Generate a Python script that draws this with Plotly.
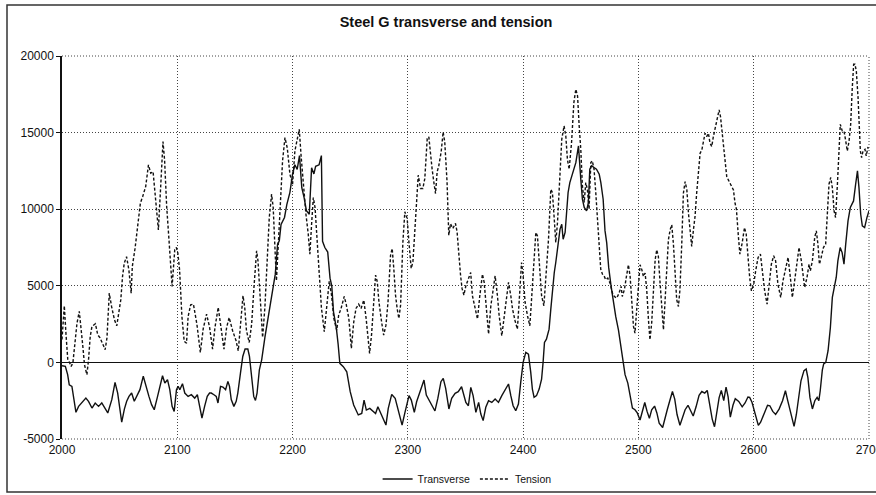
import plotly.graph_objects as go

title = "Steel G transverse and tension"

x_ticks = [2000, 2100, 2200, 2300, 2400, 2500, 2600, 2700]
x_labels = ["2000", "2100", "2200", "2300", "2400", "2500", "2600", "2700"]
y_ticks = [-5000, 0, 5000, 10000, 15000, 20000]
y_labels = ["-5000", "0", "5000", "10000", "15000", "20000"]

trans_x = [2000, 2002.9, 2004.9, 2006.3, 2008.6, 2010, 2012.1, 2014.4, 2017.3, 2020.7, 2023, 2026, 2028.8,
           2031.7, 2034.5, 2036.8, 2039.7, 2043.2, 2046, 2048.3, 2050.4, 2051.8, 2054.1, 2056.1, 2058.1,
           2060.4, 2062.7, 2064.7, 2067.6, 2070.5, 2072.8, 2075.4, 2077.7, 2080, 2082.9, 2084.9, 2087.2,
           2089.2, 2091.5, 2093.5, 2095.5, 2097.3, 2099.3, 2100.7, 2102.2, 2104.5, 2106.5, 2109.4, 2112.2,
           2115.1, 2117.4, 2119.4, 2121.4, 2123.7, 2126, 2128, 2129.5, 2131.8, 2133.8, 2135.3, 2137.5,
           2139.6, 2141.9, 2143.9, 2145.3, 2146.8, 2149.1, 2151.1, 2152.5, 2154.8, 2156.8, 2158.8, 2161.2,
           2162.6, 2164.6, 2166.3, 2167.8, 2169.2, 2171.2, 2173.2, 2176, 2179, 2182, 2185, 2187, 2188.5,
           2190, 2193, 2195, 2197.7, 2200, 2202, 2204, 2206, 2208, 2210, 2212, 2214.5, 2216.5, 2218.5,
           2220, 2223, 2225, 2226, 2228, 2230.5, 2232.5, 2234, 2235.5, 2238, 2239.5, 2241, 2244, 2247,
           2250, 2253, 2257, 2260, 2262, 2264, 2267, 2272, 2274, 2277, 2281, 2283, 2286, 2289, 2292,
           2295, 2297.5, 2301, 2303, 2305.6, 2307.6, 2310.5, 2314, 2316, 2319, 2323.5, 2326, 2328.7,
           2330.7, 2332.8, 2335.6, 2338, 2341, 2343.7, 2346.6, 2349, 2350.3, 2352.5, 2354.6, 2356.6,
           2359, 2361.4, 2363.3, 2365.3, 2367.6, 2370, 2372.8, 2375.7, 2378.6, 2381.5, 2384.4, 2387.3,
           2389.3, 2391.3, 2393.6, 2395.9, 2397.9, 2400, 2402.3, 2404.6, 2406.6, 2408, 2409.5, 2411.6,
           2413.9, 2416, 2417.3, 2418.5, 2420.2, 2422.5, 2424, 2425.4, 2427, 2428.3, 2430.6, 2432,
           2433.5, 2434.7, 2436.4, 2437.6, 2439, 2440.5, 2442.2, 2444.2, 2445.7, 2448, 2449, 2450,
           2451.4, 2453, 2455, 2456.6, 2457.8, 2459.5, 2461.5, 2463.6, 2466, 2467.4, 2469.4, 2471,
           2472.5, 2474.2, 2476.3, 2478.3, 2480.3, 2482.7, 2485, 2487, 2488.4, 2490.8, 2492.8, 2494.8,
           2497, 2499, 2501.4, 2503.5, 2505.5, 2507.5, 2509.5, 2511.5, 2514, 2516, 2518, 2521, 2523,
           2525, 2527, 2529.5, 2531.5, 2533.5, 2536, 2538.5, 2540.5, 2543, 2545, 2547.5, 2550, 2552.6,
           2555, 2557.5, 2559.7, 2562, 2564, 2566, 2568, 2570, 2571.9, 2574, 2576, 2577.8, 2579.7, 2582,
           2584, 2587, 2590, 2592.5, 2595, 2596.5, 2598.5, 2600.5, 2602.5, 2604, 2606, 2609, 2612, 2614,
           2616.5, 2619, 2622, 2625, 2627.5, 2629.5, 2632.5, 2635, 2637, 2639, 2641, 2643.6, 2645.5,
           2647, 2648.8, 2650.9, 2653, 2655, 2656.5, 2657.7, 2659.5, 2660.7, 2662.5, 2664.5, 2666.5,
           2668.2, 2670.2, 2671.6, 2673, 2675, 2676.7, 2678.3, 2679.8, 2681.8, 2683.8, 2685.5, 2686.6,
           2688.4, 2690, 2691.3, 2692.8, 2694.2, 2696.2, 2698.2, 2700]
trans_y = [-220, -260, -800, -1460, -1570, -2220, -3260, -2870, -2650, -2330, -2540, -2980, -2650,
           -2870, -2650, -2980, -3300, -2430, -1300, -2000, -3300, -3900, -3050, -2540, -2220,
           -2000, -2540, -2220, -1780, -900, -1560, -2220, -2760, -3090, -2220, -1560, -870,
           -1350, -1130, -1780, -2870, -3200, -1780, -1560, -1780, -1390, -2000, -2220, -2110,
           -2330, -2110, -2870, -3630, -2870, -2220, -2000, -2000, -2110, -2220, -2650, -1560,
           -1610, -1780, -1240, -1560, -2430, -2870, -2540, -2000, -700, 390, 870, 870,
           390, -1130, -2220, -2480, -2000, -480, 170, 1630, 2930, 4240, 5760, 7720, 7940,
           9000, 9460, 10300, 11100, 12300, 12900, 12600, 13500, 11400, 10760, 9900, 9670, 12700, 12300,
           12800, 12900, 13500, 7900, 7500, 7200, 5500, 5000, 3300, 2220, 1200, -60, -280, -610,
           -1910, -2780, -3430, -3330, -2460, -3110, -3000, -3330, -2900, -3430, -4090, -3000, -2090, -2350, -3170,
           -4090, -3260, -2170, -2460, -3260, -2570, -1910, -1150, -2130, -2570, -3170, -2350, -1260,
           -1040, -1690, -3040, -2350, -2020, -1910, -1590, -2350, -2610, -2830, -1630, -2170,
           -3260, -2610, -3370, -3800, -2930, -2500, -2610, -2390, -2610, -2170, -1740, -1410,
           -2170, -2830, -3150, -2720, -1300, 0, 650, 540, -650, -1740, -2280, -2170,
           -1740, -1090, 0, 1300, 1520, 2170, 3480, 4780, 5870, 6520, 7830, 8700,
           9020, 8040, 8480, 9780, 11090, 11740, 12170, 12610, 13040, 14130, 12830, 11960,
           10650, 10110, 9890, 10430, 12610, 12830, 12720, 12610, 12280, 11740, 10650, 8600,
           7800, 6200, 4960, 3870, 3000, 2100, 900, 0, -800, -1350, -2220, -2980,
           -3090, -3300, -3760, -3200, -2620, -3200, -3650, -3100, -2850, -3300, -3960, -4250, -3600,
           -3090, -2550, -1900, -2400, -3400, -4100, -3500, -3090, -2800, -3150, -3500, -2900, -2150,
           -1900, -2000, -1830, -2700, -3700, -4200, -3300, -2300, -1830, -2500, -1610, -2250, -3570, -2800,
           -2370, -2550, -2900, -2650, -2260, -2280, -2600, -3200, -3700, -4110, -3900, -3350, -2800, -2830,
           -3200, -3400, -3050, -2500, -1850, -2500, -3400, -4180, -3400, -2300, -1200, -540, -430,
           -1000, -2300, -3040, -2500, -2280, -2500, -1850, -500, -100, 0, 760, 2280,
           4240, 4890, 5560, 6630, 7500, 7170, 6410, 7720, 9240, 10110, 10330, 10540,
           11630, 12500, 11410, 9670, 8910, 8800, 9450, 9890]

tens_x = [2000, 2001, 2002, 2003.5, 2005, 2006.5, 2008, 2009.5, 2011, 2013, 2015, 2016.6, 2018, 2019.5,
          2021.6, 2023, 2024.5, 2026, 2029, 2031, 2033, 2035, 2037.4, 2039, 2041, 2043, 2045.5, 2047.5,
          2049, 2051, 2052.5, 2054, 2056, 2058, 2060, 2061, 2063.4, 2066, 2068, 2070, 2072.6, 2075, 2077,
          2079, 2081, 2083.6, 2085.6, 2087.6, 2089, 2090.8, 2092.8, 2094, 2095.5, 2097.8, 2099.2, 2100.5,
          2102, 2104, 2106, 2108, 2109.4, 2111.6, 2114, 2117, 2120, 2122.5, 2125.4, 2128, 2130.6, 2132.7,
          2135.5, 2137.5, 2140.5, 2142.8, 2145, 2148, 2151, 2152.9, 2155, 2157, 2158.5, 2160, 2162.4,
          2164.5, 2166.5, 2168.8, 2170, 2172, 2174, 2176, 2178, 2179.8, 2181.8, 2183.2, 2184.7, 2186,
          2187.5, 2189.6, 2191.3, 2193.4, 2195.4, 2197.7, 2200, 2202, 2204, 2205.8, 2207.5, 2209, 2211.6,
          2213.6, 2215, 2216.5, 2218, 2219.5, 2221.4, 2223, 2225, 2227.5, 2229.5, 2231.8, 2233.8, 2235.8,
          2238.3, 2240, 2242, 2244.8, 2246.5, 2248.8, 2251, 2253, 2255, 2257.3, 2259.4, 2261.8, 2263.8,
          2265.6, 2266.8, 2268.5, 2270.5, 2272, 2273.5, 2274.9, 2277.2, 2279, 2281, 2282.8, 2285, 2286.4,
          2287.8, 2289.3, 2290.7, 2292.2, 2293.7, 2295.7, 2297.4, 2299.4, 2300.9, 2302.9, 2304.4, 2306,
          2307.5, 2309, 2311, 2313, 2314.7, 2316.8, 2318.2, 2319.6, 2321, 2322.5, 2324, 2325.4, 2326.9,
          2328.9, 2330.6, 2332, 2334, 2335.5, 2337, 2339, 2341.3, 2342.7, 2344, 2345.7, 2347, 2348.6,
          2350.3, 2353, 2354.5, 2356, 2358.4, 2360.4, 2362.4, 2364.7, 2366.2, 2368.2, 2370, 2372, 2374,
          2375.7, 2377.7, 2379.2, 2381.5, 2383.5, 2385.5, 2387.3, 2389.3, 2390.8, 2393, 2395, 2396.5,
          2398.6, 2400, 2401.7, 2403.8, 2405.8, 2407.5, 2409.5, 2411, 2412.4, 2414.5, 2416, 2418, 2419.4,
          2422, 2424, 2425.4, 2427, 2428.3, 2429.8, 2431.8, 2433.5, 2435.5, 2437, 2438.4, 2439.9, 2442,
          2444, 2445.7, 2447.2, 2448.6, 2450, 2451.4, 2453, 2454.3, 2455.7, 2457.2, 2458.7, 2460, 2461.5,
          2463, 2464.5, 2466, 2467.3, 2468.8, 2470.2, 2471.6, 2473.4, 2475.4, 2477.5, 2479.2, 2481.2,
          2483.2, 2485, 2486, 2487.9, 2489.6, 2491.3, 2492.8, 2494.2, 2495.7, 2497, 2498.6, 2500, 2501.4,
          2503, 2504.3, 2505.8, 2507.2, 2508.7, 2510, 2511.5, 2513, 2514.5, 2515.9, 2517.3, 2518.8,
          2520.2, 2521.7, 2523, 2524.6, 2526, 2527.5, 2528.9, 2530.3, 2531.8, 2533.2, 2534.7, 2536,
          2537.6, 2539, 2540.5, 2542, 2543.4, 2544.8, 2546.2, 2547.7, 2549.1, 2550.5, 2552, 2553.5, 2555,
          2556.4, 2557.8, 2559.2, 2560.7, 2562.1, 2563.6, 2565, 2566.5, 2568, 2570, 2571.2, 2572.3,
          2573.7, 2575.1, 2576.6, 2578, 2579.5, 2581, 2582.4, 2583.8, 2585, 2586.7, 2588, 2590, 2592,
          2593.5, 2595, 2596.5, 2598, 2600, 2601.7, 2603.8, 2605.8, 2607.5, 2609.5, 2611.6, 2613.3,
          2615.3, 2617.3, 2619, 2621, 2623.4, 2625.4, 2627.7, 2629.8, 2631.8, 2633.5, 2635.5, 2637.5,
          2639.3, 2641.3, 2642.7, 2644.2, 2646.2, 2648, 2649.1, 2650.9, 2652.9, 2654.3, 2655.7, 2657,
          2658.5, 2660.5, 2662.4, 2663.8, 2665.3, 2666.8, 2668.2, 2669.7, 2671, 2672.6, 2674, 2675.1,
          2676.8, 2678.3, 2679.8, 2681.2, 2682.7, 2684.1, 2685.5, 2686.7, 2687.8, 2689, 2690.5, 2691.3,
          2692.5, 2693.6, 2694.8, 2696.5, 2697.6, 2699, 2700]
tens_y = [1500, 2800, 3700, 1800, 200, 0, -260, 0, 1100, 2560, 3330, 2300, 1100, -150,
          -800, 170, 1700, 2350, 2520, 1800, 1600, 1260, 830, 1600, 4520, 3650, 2780, 2390,
          3200, 4090, 5600, 6480, 6900, 6040, 4520, 6260, 7460, 9300, 10400, 10830, 11480, 12890, 12350,
          12450, 10830, 8650, 11480, 14410, 13200, 10170, 8000, 6300, 4960, 7350, 7500, 7130,
          6040, 3000, 1370, 1260, 3000, 3760, 3800, 2500, 650, 2200, 3150, 2300, 870, 2280,
          3590, 2500, 870, 2280, 2930, 2070, 1410, 760, 2500, 4350, 3590, 2070, 1300,
          2500, 4890, 7280, 6630, 4020, 1630, 3590, 6850, 9460, 10980, 10110, 7500, 5330,
          7500, 10540, 13150, 14670, 14000, 12280, 11630, 13800, 14670, 15220, 13370, 11850, 9670,
          8370, 7070, 9020, 10760, 10110, 7940, 5760, 3590, 2000, 3500, 5300, 4390, 2870,
          2100, 3090, 3500, 4300, 3800, 2870, 910, 2600, 3520, 3800, 3520, 4070, 2870,
          1350, 590, 1800, 4390, 5700, 5260, 3960, 2650, 1780, 2430, 3960, 7000, 7430,
          6130, 4390, 3520, 2870, 3740, 7870, 9830, 9390, 7870, 6130, 6570, 8740,
          10910, 12220, 11350, 11350, 12000, 14610, 14720, 13520, 12650, 11780, 11020, 12430, 12870,
          13740, 15040, 14390, 11780, 8300, 9050, 8740, 9070, 8520, 7000, 5700, 4830, 4390,
          5000, 5650, 5870, 4350, 3480, 2830, 4350, 5760, 5220, 3480, 1850, 3700, 4780,
          5650, 4350, 3040, 1740, 3040, 4350, 5220, 4350, 3480, 2720, 2170, 3910,
          6520, 5650, 3910, 3040, 2390, 4350, 6960, 8480, 8260, 6090, 4350, 3700, 5220,
          8040, 11300, 11090, 9350, 7830, 9130, 12600, 14560, 15440, 14780, 13260, 12610, 14350,
          16960, 17830, 17390, 15440, 13910, 11520, 10440, 11740, 11300, 10000, 13040, 13150, 12610,
          11090, 9350, 7390, 6090, 5760, 5650, 5400, 5500, 5170, 4520, 4300, 4200,
          4520, 4960, 4300, 4780, 5610, 6370, 5610, 3870, 2350, 1910, 3440, 5170, 6370,
          6040, 5610, 5830, 4740, 2780, 1480, 2570, 4740, 6700, 7350, 6910, 5170,
          3440, 2130, 3870, 6040, 8000, 8650, 8980, 7780, 5610, 4090, 3650, 4740,
          7780, 11040, 11800, 11260, 9740, 8650, 7570, 8650, 9520, 11040, 12570, 13650, 13870,
          14520, 14960, 14740, 14960, 14310, 14090, 14740, 15280, 15610, 16480, 16040, 15170,
          14310, 13220, 12130, 11910, 11690, 11480, 11260, 10390, 10000, 8220, 7070, 7800, 8800,
          8370, 6850, 5540, 4670, 5100, 5980, 6850, 7070, 5980, 4670, 3800, 4890,
          6410, 6960, 6630, 5110, 4240, 5330, 6200, 6850, 5540, 4240, 5330, 6410,
          7500, 6630, 5760, 4890, 5540, 6410, 5980, 6630, 8150, 8590, 7720, 6410,
          6850, 7500, 7720, 9460, 11630, 12070, 11410, 9890, 9460, 11630, 14240, 15540,
          15110, 15110, 14460, 13800, 14460, 15540, 17940, 19460, 19460, 19020, 17280, 15540,
          13800, 13370, 13800, 13910, 13480, 14020, 14000]

fig = go.Figure()
fig.add_trace(go.Scatter(x=trans_x, y=trans_y, mode="lines", name="Transverse",
                         line=dict(color="#111111", width=1.4)))
fig.add_trace(go.Scatter(x=tens_x, y=tens_y, mode="lines", name="Tension",
                         line=dict(color="#111111", width=1.4, dash="3px,2px")))

FONT = "Liberation Sans, Arial, sans-serif"
GRID = "#444444"
fig.update_layout(
    width=876, height=495,
    margin=dict(l=62, r=7, t=56, b=56, autoexpand=False),
    paper_bgcolor="white", plot_bgcolor="white",
    font=dict(family=FONT, size=12, color="#111111"),
    title=dict(text="<b>" + title + "</b>", x=446 / 876, xref="container", xanchor="center",
               y=1 - 22 / 495, yref="container", yanchor="middle",
               font=dict(family=FONT, size=14.5, color="#111111")),
    showlegend=True,
    legend=dict(orientation="h", x=0.502, xanchor="center",
                y=1 - 479 / 495, yref="container", yanchor="middle",
                font=dict(family=FONT, size=10.5, color="#111111"), bgcolor="rgba(0,0,0,0)",
                itemwidth=30, tracegroupgap=0),
    xaxis=dict(range=[2000, 2700], tickvals=x_ticks, ticktext=x_labels,
               showgrid=True, gridcolor=GRID, griddash="1px,2px", gridwidth=1,
               zeroline=False, showline=False, ticks="", ticklabelstandoff=2,
               ticklabeloverflow="allow", automargin=False),
    yaxis=dict(range=[-5000, 20000], tickvals=y_ticks, ticktext=y_labels,
               showgrid=True, gridcolor=GRID, griddash="1px,2px", gridwidth=1,
               zeroline=True, zerolinecolor="#111111", zerolinewidth=1.2,
               showline=True, linecolor="#111111", linewidth=1.5,
               ticks="outside", ticklen=4, tickcolor="#111111", automargin=False),
)

# dotted border of the plot area (top, right, bottom), as in the reference
edge = dict(color=GRID, width=1, dash="1px,2px")
fig.add_shape(type="line", xref="paper", yref="paper", x0=0, x1=1, y0=1, y1=1, line=edge)
fig.add_shape(type="line", xref="paper", yref="paper", x0=0, x1=1, y0=0, y1=0, line=edge)
fig.add_shape(type="line", xref="paper", yref="paper", x0=1, x1=1, y0=0, y1=1, line=edge)

# outer chart frame (right side runs off the picture)
fig.add_shape(type="rect", xref="paper", yref="paper",
              x0=(7 - 62) / 807, x1=(900 - 62) / 807,
              y0=(439 - 492) / 383, y1=(439 - 5) / 383,
              line=dict(color="#333333", width=1.5), fillcolor="rgba(0,0,0,0)", layer="below")

fig.write_html("out.html")
